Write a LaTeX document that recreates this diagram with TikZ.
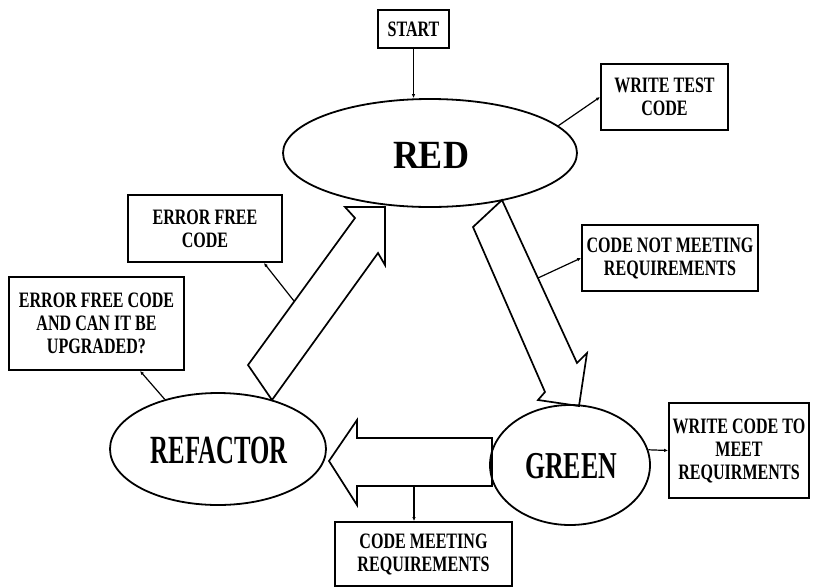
\documentclass[tikz,border=0pt]{standalone}
\usepackage{fontspec}
\setmainfont{Liberation Serif}
\newfontfamily\boxfont{Liberation Serif}[FakeStretch=0.73]
\newfontfamily\redfont{Liberation Serif}[FakeStretch=0.9]
\newfontfamily\refactorfont{Liberation Serif}[FakeStretch=0.62]
\newfontfamily\greenfont{Liberation Serif}[FakeStretch=0.68]
\usetikzlibrary{shapes.geometric,arrows.meta,calc}
\begin{document}
\begin{tikzpicture}[x=1pt,y=-1pt,
  box/.style={draw, line width=1.8pt, rectangle, inner sep=0pt, align=center,
    font=\boxfont\bfseries\fontsize{22}{23}\selectfont},
  oval/.style={draw, line width=1.8pt, ellipse, inner sep=0pt},
  bigtext/.style={inner sep=0pt},
  blockarrow/.style={draw, line width=1.7pt, line join=miter},
  link/.style={line width=1.2pt, -{Latex[length=4pt,width=3.5pt]}}]
\useasboundingbox (0,0) rectangle (813,587);

% ellipses
\node[oval, minimum width=294pt, minimum height=108pt] (red) at (430,153) {};
\node[bigtext, font=\redfont\bfseries\fontsize{40}{40}\selectfont] (redt) at (431,155) {RED};
\node[oval, minimum width=216pt, minimum height=112pt] (refactor) at (218,449) {};
\node[bigtext, font=\refactorfont\bfseries\fontsize{40}{40}\selectfont] (refactort) at (219,450) {REFACTOR};
\node[oval, minimum width=160pt, minimum height=120pt] (green) at (570,465) {};
\node[bigtext, font=\greenfont\bfseries\fontsize{38}{38}\selectfont] (greent) at (571,466) {GREEN};

% boxes
\node[box, minimum width=71pt, minimum height=38pt] (start) at (413.5,29) {START};
\node[box, minimum width=127pt, minimum height=66pt] (wtc) at (664.5,97) {WRITE TEST\\CODE};
\node[box, minimum width=176pt, minimum height=66pt] (cnm) at (670,258) {CODE NOT MEETING\\REQUIREMENTS};
\node[box, minimum width=140pt, minimum height=95pt] (wcm) at (739,450.5) {WRITE CODE TO\\MEET\\REQUIRMENTS};
\node[box, minimum width=177pt, minimum height=64pt] (cmr) at (423.5,554) {CODE MEETING\\REQUIREMENTS};
\node[box, minimum width=154pt, minimum height=67pt] (ef) at (205,228.5) {ERROR FREE\\CODE};
\node[box, minimum width=175pt, minimum height=93pt] (efu) at (96.5,323.5) {ERROR FREE CODE\\AND CAN IT BE\\UPGRADED?};

% block arrows
\draw[blockarrow] (248,365) -- (355,218) -- (345,207) -- (385,207) -- (385,265)
  -- (378,253) -- (272,400) -- cycle;
\draw[blockarrow] (473,227) -- (502,200) -- (577,363) -- (587,353) -- (579,406)
  -- (538,400) -- (545,392) -- cycle;
\draw[blockarrow] (492,438) -- (357,438) -- (357,420) -- (329,461) -- (357,505)
  -- (357,486) -- (492,486) -- cycle;

% connector anchor points on block arrows
\coordinate (p1) at (538,278);
\coordinate (p2) at (414,486);
\coordinate (p3) at (294,301);

% connectors
\draw[link] (start.south) -- (start.south |- red.north);
\draw[link] (red.12) -- (wtc.west);
\draw[link] (p1) -- (cnm.west);
\draw[link] (green.11) -- (wcm.west);
\draw[link] (p2) -- (p2 |- cmr.north);
\draw[link] (p3) -- ([xshift=-19pt]ef.south east);
\draw[link] (refactor.137) -- ([xshift=43.5pt]efu.south);
\end{tikzpicture}
\end{document}
